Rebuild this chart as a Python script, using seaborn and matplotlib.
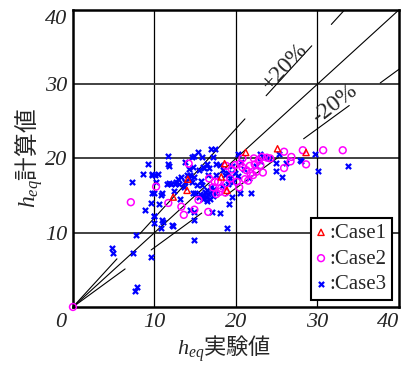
import numpy as np
import pandas as pd
import matplotlib
matplotlib.use("Agg")
import matplotlib.pyplot as plt
import matplotlib.transforms as mtransforms
import seaborn as sns

sns.set_theme(style="white")
plt.rcParams["font.family"] = ["Liberation Serif", "Noto Sans CJK JP", "DejaVu Sans"]
# math part (h_eq) in Times-like italic; kanji come from the label's own family
plt.rcParams["mathtext.fontset"] = "custom"
plt.rcParams["mathtext.rm"] = "Noto Sans CJK JP"
plt.rcParams["mathtext.it"] = "Liberation Serif:italic"

# ---------------------------------------------------------------------------
# data read off the picture (h_eq experiment vs calculation)
# ---------------------------------------------------------------------------
case1_x = [12.3, 14.0, 14.1, 18.2, 18.6, 18.9, 21.2, 25.1, 28.6]
case1_y = [14.8, 15.7, 17.2, 17.5, 19.3, 15.7, 20.8, 21.3, 20.8]

case2_x = [0, 7.1, 10.2, 11.7, 13.3, 13.6, 14.2, 14.9, 15.4, 16.6, 16.7, 17.2, 17.4,
           17.8, 18.0, 18.7, 18.8, 18.8, 19.3, 19.9, 20.1, 20.4, 20.5, 20.8, 21.1,
           21.3, 21.5, 21.7, 22.2, 22.1, 22.3, 22.5, 23.0, 23.2, 23.3, 23.8, 25.9,
           25.9, 26.8, 26.7, 28.2, 28.6, 30.7, 33.1, 19.5, 20.8, 22.8, 24.2, 18.2,
           17.6, 21.8]
case2_y = [0, 14.1, 16.2, 14.0, 13.5, 12.4, 19.3, 13.1, 14.4, 12.8, 17.3, 16.1, 16.85,
           16.85, 15.5, 15.4, 16.6, 19.0, 17.3, 19.1, 16.85, 16.1, 19.3, 20.0, 17.2,
           18.4, 17.0, 19.0, 20.0, 17.75, 19.2, 18.2, 19.1, 20.2, 18.1, 20.1, 20.9,
           18.7, 20.2, 19.6, 21.1, 19.2, 21.1, 21.1, 18.5, 18.8, 19.7, 20.0, 16.0,
           15.2, 18.0]

case3_x = [4.8, 4.9, 7.35, 7.8, 7.6, 9.55, 7.7, 7.2, 8.65, 9.25, 8.8, 9.55, 9.7, 9.7,
           10.0, 10.1, 10.2, 9.9, 10.0, 9.9, 10.8, 10.6, 10.9, 10.8, 11.7, 11.7, 11.8,
           11.8, 12.2, 12.4, 12.65, 12.9, 13.1, 13.3, 13.75, 13.75, 14.0, 14.2, 14.2,
           14.4, 14.6, 14.8, 14.7, 14.6, 14.7, 14.4, 14.8, 14.8, 14.8, 15.3, 15.2,
           15.0, 15.8, 15.9, 16.1, 15.8, 16.4, 16.7, 16.9, 17.4, 17.2, 17.55, 17.6,
           18.0, 18.0, 17.0, 18.4, 18.9, 19.2, 19.55, 19.0, 19.3, 19.9, 20.2, 20.5,
           21.9, 22.9, 23.5, 24.1, 24.9, 24.9, 25.7, 26.1, 27.8, 28.0, 29.7, 30.1,
           33.7, 25.3, 16.0, 16.3, 16.6, 16.8, 17.0, 16.5, 17.2, 16.2, 15.6, 17.5,
           16.9, 16.0, 17.3, 15.5, 16.4, 18.3, 19.0, 18.6, 19.6, 20.3, 19.5, 21.0,
           13.6, 13.0, 12.0, 15.5, 16.6, 14.9, 15.7, 20.6, 22.4, 23.0, 21.6, 9.67,
           10.4, 10.9, 11.5, 12.5, 11.1, 12.3]
case3_y = [7.9, 7.3, 7.2, 2.7, 2.1, 6.7, 9.75, 16.8, 17.9, 19.3, 13.1, 14.0, 17.75,
           15.4, 15.3, 17.8, 16.85, 12.3, 12.3, 11.3, 15.1, 13.8, 11.7, 10.65, 20.3,
           19.3, 19.0, 16.7, 11.1, 15.6, 16.85, 17.2, 14.5, 17.5, 19.55, 16.85, 17.75,
           17.3, 18.6, 17.75, 20.2, 20.3, 18.9, 16.85, 15.4, 13.1, 12.8, 11.7, 9.0,
           20.8, 16.4, 15.4, 20.2, 18.9, 18.65, 16.4, 19.3, 18.65, 21.3, 21.3, 20.2,
           19.3, 17.75, 19.1, 12.7, 12.8, 18.4, 10.65, 13.8, 14.8, 18.0, 17.3, 18.0,
           20.6, 15.4, 15.4, 20.6, 20.2, 20.1, 19.4, 18.3, 17.5, 19.4, 19.8, 19.6,
           20.6, 18.3, 19.0, 20.6, 15.0, 14.8, 15.2, 14.6, 15.6, 15.8, 14.9, 15.5,
           15.2, 15.3, 16.1, 14.5, 15.9, 14.8, 14.2, 16.3, 16.5, 17.8, 16.8, 17.6,
           19.0, 18.6, 16.2, 16.5, 16.5, 18.5, 17.8, 17.5, 17.0, 19.5, 19.0, 19.6,
           17.3, 17.85, 17.85, 15.3, 16.6, 16.6, 11.45, 10.9]

# reference lines y = k*x, drawn in broken pieces (gaps leave room for labels)
ratio_lines = {
    1.0: [(0, 40)],
    1.2: [(0, 5.4), (8.2, 21.1), (23.7, 29.3), (31.7, 33.3)],
    0.8: [(0, 6.4), (9.6, 15.8), (18.7, 25.2), (28.3, 33.9), (37.7, 40)],
}

df = pd.concat([
    pd.DataFrame({"exp": case1_x, "calc": case1_y, "case": ":Case1"}),
    pd.DataFrame({"exp": case2_x, "calc": case2_y, "case": ":Case2"}),
    pd.DataFrame({"exp": case3_x, "calc": case3_y, "case": ":Case3"}),
])

fig = plt.figure(figsize=(4.03, 3.65), dpi=100)
ax = fig.add_axes([0.181, 0.159, 0.809, 0.814])

# grid
for v in [10, 20, 30]:
    ax.axvline(v, color="black", lw=0.9, zorder=1)
    ax.axhline(v, color="#333333", lw=1.3, zorder=1)

for k, pieces in ratio_lines.items():
    for x0, x1 in pieces:
        xs = np.array([x0, x1])
        ax.plot(xs, k * xs, color="black", lw=0.8, zorder=2)

sub = df[df["case"] == ":Case3"]
sns.scatterplot(data=sub, x="exp", y="calc", marker="x", s=14, color="#0000FF",
                linewidth=1.6, ax=ax, label=":Case3", zorder=3)
sub = df[df["case"] == ":Case2"]
sns.scatterplot(data=sub, x="exp", y="calc", marker="o", s=24, facecolor="none",
                edgecolor="#FF00FF", linewidth=1.1, ax=ax, label=":Case2",
                zorder=4, clip_on=False)
sub = df[df["case"] == ":Case1"]
sns.scatterplot(data=sub, x="exp", y="calc", marker="^", s=20, facecolor="none",
                edgecolor="#FF0000", linewidth=1.0, ax=ax, label=":Case1", zorder=5)

ax.text(26.0, 32.4, "+20%", rotation=47, ha="center", va="center", fontsize=17)
ax.text(32.1, 27.3, "-20%", rotation=38, ha="center", va="center", fontsize=17)

ax.set_xlim(0, 40)
ax.set_ylim(0, 40)
ax.set_xticks([0, 10, 20, 30, 40])
ax.set_yticks([10, 20, 30, 40])
ax.tick_params(length=0, labelsize=16)
ax.tick_params(axis="x", pad=4)
ax.tick_params(axis="y", pad=4)
for lab in ax.get_xticklabels() + ax.get_yticklabels():
    lab.set_fontstyle("italic")
xl = ax.get_xticklabels()
xl[0].set_ha("right")
xl[0].set_transform(xl[0].get_transform()
                    + mtransforms.ScaledTranslation(-5 / 72, 0, fig.dpi_scale_trans))
xl[-1].set_ha("right")
ax.get_yticklabels()[-1].set_va("top")

ax.set_xlabel(r"$h_{eq}$実験値", fontsize=16, family="Noto Sans CJK JP")
ax.set_ylabel(r"$h_{eq}$計算値", fontsize=17, labelpad=0, family="Noto Sans CJK JP")
ax.xaxis.set_label_coords(0.463, -0.088)

for sp in ax.spines.values():
    sp.set_color("black")
    sp.set_linewidth(1.8)

handles, labels = ax.get_legend_handles_labels()
order = [labels.index(l) for l in [":Case1", ":Case2", ":Case3"]]
leg = ax.legend([handles[i] for i in order], [labels[i] for i in order],
                loc="lower right", fontsize=15, frameon=True, fancybox=False,
                framealpha=1, edgecolor="black", handlelength=0.5,
                handletextpad=0.15, borderpad=0.25, labelspacing=0.3,
                borderaxespad=0.35)
leg.get_frame().set_linewidth(1.5)

fig.savefig("out.png", dpi=100)
